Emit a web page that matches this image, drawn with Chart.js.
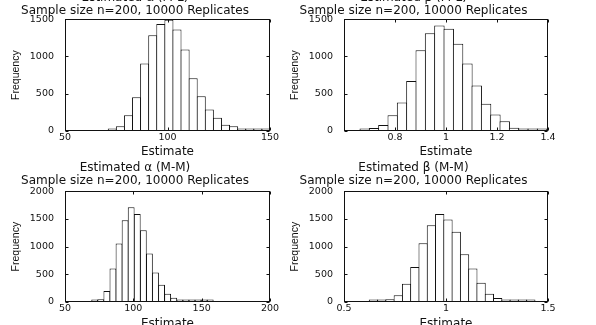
<!DOCTYPE html>
<html>
<head>
<meta charset="utf-8">
<script src="https://cdn.jsdelivr.net/npm/chart.js@4/dist/chart.umd.min.js"></script>
<style>
  html, body { margin: 0; padding: 0; background: #fff; }
  body { position: relative; width: 596px; height: 325px; overflow: hidden; }
  canvas { position: absolute; }
</style>
</head>
<body>
<canvas id="alpha-ml" width="285" height="175" style="left:0px;top:-10px"></canvas>
<canvas id="beta-ml" width="290" height="175" style="left:279px;top:-10px"></canvas>
<canvas id="alpha-mm" width="285" height="172" style="left:0px;top:160px"></canvas>
<canvas id="beta-mm" width="290" height="172" style="left:279px;top:160px"></canvas>
<script>
// bin centres and counts (20 bins each)
const alphaMLBins = [73.07, 77.02, 80.96, 84.91, 88.85, 92.80, 96.74, 100.69, 104.63, 108.58, 112.52, 116.47, 120.41, 124.36, 128.30, 132.25, 136.19, 140.14, 144.08, 148.03];
const alphaMLCounts = [10, 63, 210, 452, 905, 1286, 1434, 1492, 1362, 1093, 708, 466, 287, 179, 85, 63, 31, 18, 9, 9];

const betaMLBins = [0.6813, 0.7179, 0.7545, 0.7911, 0.8277, 0.8643, 0.9009, 0.9375, 0.9741, 1.0107, 1.0473, 1.0839, 1.1205, 1.1571, 1.1937, 1.2303, 1.2669, 1.3035, 1.3401, 1.3767];
const betaMLCounts = [9, 40, 81, 210, 381, 672, 1084, 1312, 1416, 1371, 1169, 905, 609, 367, 220, 130, 45, 27, 9, 9];

const alphaMMBins = [71.725, 76.175, 80.625, 85.075, 89.525, 93.975, 98.425, 102.875, 107.325, 111.775, 116.225, 120.675, 125.125, 129.575, 134.025, 138.475, 142.925, 147.375, 151.825, 156.275];
const alphaMMCounts = [6, 48, 198, 606, 1056, 1476, 1710, 1590, 1296, 876, 534, 312, 150, 78, 36, 24, 12, 12, 6, 12];

const betaMMBins = [0.6443, 0.6849, 0.7255, 0.7661, 0.8067, 0.8473, 0.8879, 0.9285, 0.9691, 1.0097, 1.0503, 1.0909, 1.1315, 1.1721, 1.2127, 1.2533, 1.2939, 1.3345, 1.3751, 1.4157];
const betaMMCounts = [6, 12, 48, 120, 330, 630, 1062, 1386, 1590, 1488, 1266, 864, 606, 348, 150, 72, 24, 12, 6, 6];

const alphaMLTicks = [50, 100, 150];
const betaMLTicks = [0.8, 1, 1.2, 1.4];
const alphaMMTicks = [50, 100, 150, 200];
const betaMMTicks = [0.5, 1, 1.5];
const freqTicksTop = [0, 500, 1000, 1500];
const freqTicksBottom = [0, 500, 1000, 1500, 2000];

const subtitle = 'Sample size n=200, 10000 Replicates';

// matlab style box with inward ticks on all four sides
const boxTicks = {
    id: 'boxTicks',
    afterDraw(chart) {
        const {ctx, chartArea: a, scales: {x, y}} = chart;
        const L = Math.round(a.left) + 0.5, R = Math.round(a.right) - 0.5;
        const T = Math.round(a.top) + 0.5, B = Math.round(a.bottom) - 0.5;
        ctx.save();
        ctx.strokeStyle = '#111';
        ctx.lineWidth = 1;
        ctx.beginPath();
        x.ticks.forEach(t => {
            const px = Math.round(x.getPixelForValue(t.value)) + 0.5;
            ctx.moveTo(px, B); ctx.lineTo(px, B - 3);
            ctx.moveTo(px, T); ctx.lineTo(px, T + 3);
        });
        y.ticks.forEach(t => {
            const py = Math.round(y.getPixelForValue(t.value)) + 0.5;
            ctx.moveTo(L, py); ctx.lineTo(L + 3, py);
            ctx.moveTo(R, py); ctx.lineTo(R - 3, py);
        });
        ctx.stroke();
        ctx.strokeRect(L, T, R - L, B - T);
        ctx.restore();
    }
};

function makeHist(id, o) {
    new Chart(document.getElementById(id), {
        type: 'bar',
        data: {
            datasets: [{
                data: o.bins.map((b, i) => ({x: b, y: o.counts[i]})),
                backgroundColor: '#fff',
                borderColor: '#111',
                borderWidth: 1,
                barPercentage: 1.12,
                categoryPercentage: 1,
                inflateAmount: 0,
                minBarLength: 2.5
            }]
        },
        options: {
            responsive: false,
            animation: false,
            events: [],
            layout: {padding: {left: 0, right: o.padRight, top: 0, bottom: 0}},
            plugins: {
                legend: {display: false},
                tooltip: {enabled: false},
                title: {
                    display: true,
                    text: [o.title, subtitle],
                    color: '#111',
                    font: {family: 'DejaVu Sans', size: 12, weight: 'normal', lineHeight: 1.05},
                    padding: {top: 2, bottom: o.titleGap}
                }
            },
            scales: {
                x: {
                    type: 'linear',
                    min: o.xMin,
                    max: o.xMax,
                    offset: false,
                    grid: {display: false, drawTicks: false, offset: false},
                    border: {display: false},
                    afterBuildTicks: s => { s.ticks = o.xTicks.map(v => ({value: v})); },
                    afterFit: s => { s.height = o.xHeight; },
                    ticks: {
                        color: '#111', padding: 1, maxRotation: 0, autoSkip: false,
                        font: {family: 'DejaVu Sans', size: 9.5},
                        callback: v => String(v)
                    },
                    title: {
                        display: true, text: 'Estimate', color: '#111',
                        font: {family: 'DejaVu Sans', size: 12},
                        padding: {top: 0, bottom: o.xTitlePad}
                    }
                },
                y: {
                    min: 0,
                    max: o.yMax,
                    grid: {display: false, drawTicks: false},
                    border: {display: false},
                    afterBuildTicks: s => { s.ticks = o.yTicks.map(v => ({value: v})); },
                    afterFit: s => { s.width = 65; },
                    ticks: {
                        color: '#111', padding: 11,
                        font: {family: 'DejaVu Sans', size: 9.5},
                        callback: v => String(v)
                    },
                    title: {
                        display: true, text: 'Frequency', color: '#111',
                        font: {family: 'Liberation Sans', size: 10.5},
                        padding: {top: 10, bottom: 0}
                    }
                }
            }
        },
        plugins: [boxTicks]
    });
}

makeHist('alpha-ml', {
    title: 'Estimated \u03b1 (M-L)', bins: alphaMLBins, counts: alphaMLCounts,
    xMin: 50, xMax: 150, xTicks: alphaMLTicks, yMax: 1500, yTicks: freqTicksTop,
    padRight: 15, titleGap: 2, xHeight: 34, xTitlePad: 6
});
makeHist('beta-ml', {
    title: 'Estimated \u03b2 (M-L)', bins: betaMLBins, counts: betaMLCounts,
    xMin: 0.6, xMax: 1.4, xTicks: betaMLTicks, yMax: 1500, yTicks: freqTicksTop,
    padRight: 21, titleGap: 2, xHeight: 34, xTitlePad: 6
});
makeHist('alpha-mm', {
    title: 'Estimated \u03b1 (M-M)', bins: alphaMMBins, counts: alphaMMCounts,
    xMin: 50, xMax: 200, xTicks: alphaMMTicks, yMax: 2000, yTicks: freqTicksBottom,
    padRight: 15, titleGap: 4, xHeight: 30, xTitlePad: 1
});
makeHist('beta-mm', {
    title: 'Estimated \u03b2 (M-M)', bins: betaMMBins, counts: betaMMCounts,
    xMin: 0.5, xMax: 1.5, xTicks: betaMMTicks, yMax: 2000, yTicks: freqTicksBottom,
    padRight: 21, titleGap: 4, xHeight: 30, xTitlePad: 1
});
</script>
</body>
</html>
